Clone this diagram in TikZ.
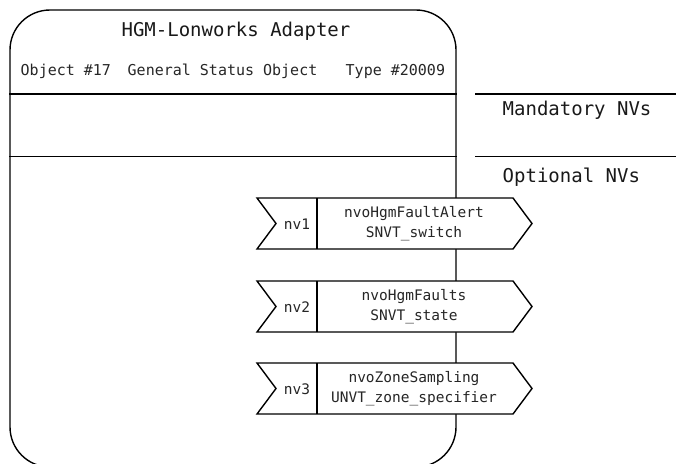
\documentclass[tikz,border=0pt]{standalone}
\usepackage{fontspec}
\setmonofont{DejaVu Sans Mono}
\begin{document}
\begin{tikzpicture}[x=1pt,y=-1pt,line width=1.4pt,
  txt/.style={font=\ttfamily\fontsize{15}{15}\selectfont,inner sep=0pt,text=black!85},
  big/.style={font=\ttfamily\fontsize{19}{19}\selectfont,inner sep=0pt,text=black!90},
  nvtxt/.style={font=\ttfamily\fontsize{14.5}{20}\selectfont,inner sep=0pt,align=center,text=black!85},
  pennant/.style={draw,fill=white,line join=miter}]
\useasboundingbox (0,0) rectangle (676,463);
\begin{scope}
\clip (0,0) rectangle (676,463);
\node[draw,rounded corners=40pt,minimum width=446pt,minimum height=457pt,inner sep=0pt] (box) at (233,238.5) {};
\end{scope}
% separators
\draw (box.west |- 0,94) -- (box.east |- 0,94);
\draw (box.west |- 0,156.5) -- (box.east |- 0,156.5);
\draw (475,94) -- (676,94);
\draw (475,156.5) -- (676,156.5);
% texts
\node[big,anchor=base] (title) at (236,36) {HGM-Lonworks Adapter};
\node[txt,anchor=base west] (obj) at (20,75) {Object \#17};
\node[txt,anchor=base west] (gen) at (127,75) {General Status Object};
\node[txt,anchor=base west] (typ) at (345,75) {Type \#20009};
\node[big,anchor=base west] (mand) at (502,115) {Mandatory NVs};
\node[big,anchor=base west] (opt) at (502,182) {Optional NVs};
% pennants
\foreach \i/\t/\a/\b in {1/198/nvoHgmFaultAlert/SNVT\_switch,2/281/nvoHgmFaults/SNVT\_state,3/363/nvoZoneSampling/UNVT\_zone\_specifier}{
  \draw[pennant] (257,\t) -- (513,\t) -- (532,\t+25.5) -- (513,\t+51) -- (257,\t+51) -- (276,\t+25.5) -- cycle;
  \draw (317,\t) -- (317,\t+51);
  \node[nvtxt] (nv\i) at (297,\t+26) {nv\i};
  \node[nvtxt] (nvname\i) at (414,\t+25.5) {\a\\\b};
}
\end{tikzpicture}
\end{document}
